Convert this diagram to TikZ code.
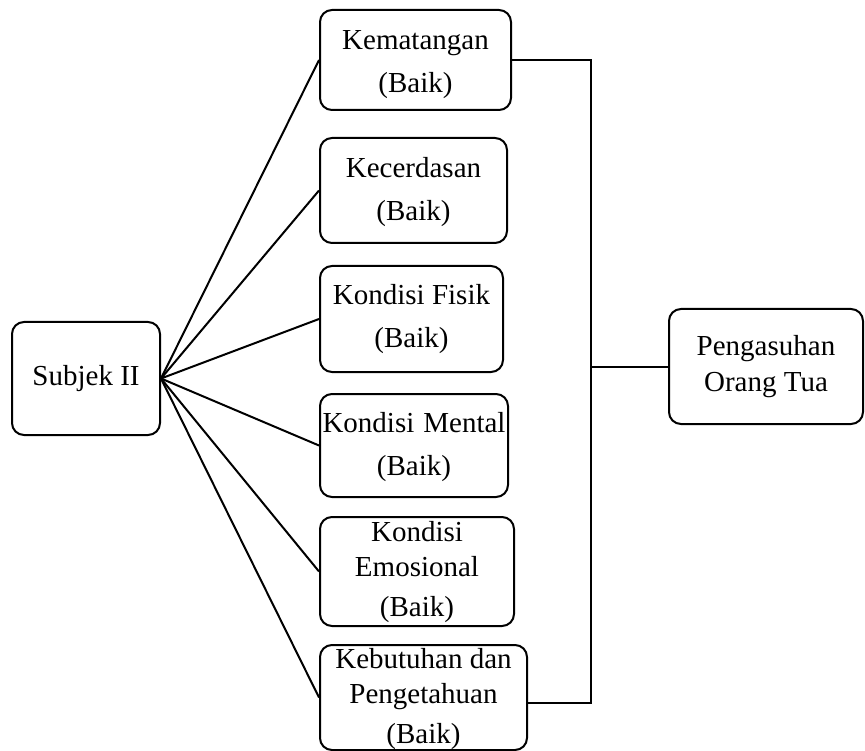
\documentclass[tikz,border=0pt]{standalone}
\usepackage{fontspec}
\setmainfont{Liberation Serif}
\begin{document}
\begin{tikzpicture}[x=1pt,y=-1pt,
  box/.style={draw,line width=2pt,rounded corners=12pt,inner sep=0pt},
  lbl/.style={align=center,inner sep=0pt,font=\fontsize{29}{43}\selectfont},
  link/.style={line width=2pt}]
\useasboundingbox (0,0) rectangle (865,751);

% left node
\node[box,minimum width=148pt,minimum height=113pt] (s) at (86,378.5) {};
\node[lbl] (st) at (s.center) {Subjek II};

% middle column of factor boxes
\node[box,minimum width=191pt,minimum height=100pt] (k1) at (415.5,60) {};
\node[box,minimum width=187pt,minimum height=105pt] (k2) at (413.5,190.5) {};
\node[box,minimum width=183pt,minimum height=106pt] (k3) at (411.5,319) {};
\node[box,minimum width=188pt,minimum height=103pt] (k4) at (414,445.5) {};
\node[box,minimum width=194pt,minimum height=109pt] (k5) at (417,571.5) {};
\node[box,minimum width=207pt,minimum height=105pt] (k6) at (423.5,697.5) {};

\node[lbl] (t1) at (415.5,64.5) {Kematangan\\(Baik)};
\node[lbl] (t2) at (413.5,192.5) {Kecerdasan\\(Baik)};
\node[lbl] (t3) at (411.5,319.5) {Kondisi Fisik\\(Baik)};
\node[lbl] (t4) at (414,447) {Kondisi\hspace{9pt}Mental\\(Baik)};
\node[lbl,font=\fontsize{29}{35}\selectfont] (t5) at (417,572.5) {Kondisi\\Emosional\\[5pt](Baik)};
\node[lbl,font=\fontsize{29}{35}\selectfont] (t6) at (423.5,699) {Kebutuhan dan\\Pengetahuan\\[5pt](Baik)};

% right node
\node[box,minimum width=194pt,minimum height=115pt] (p) at (766,366.5) {};
\node[lbl,font=\fontsize{29}{36}\selectfont] (pt) at (p.center) {Pengasuhan\\Orang Tua};

% fan from the subject to each factor
\foreach \k in {k1,k2,k3,k4,k5,k6}
  \draw[link] (s.east) -- (\k.west);

% bracket joining the factors to the outcome
\coordinate (bt) at (591,60);
\coordinate (bb) at (591,703);
\draw[link] (k1.east) -- (bt) -- (bb) -- (bb -| k6.east);
\draw[link] (p.west) -- (p.west -| bt);
\end{tikzpicture}
\end{document}
